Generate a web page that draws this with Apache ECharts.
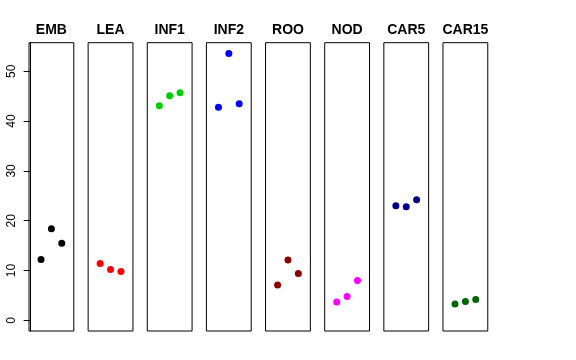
<!DOCTYPE html>
<html>
<head>
<meta charset="utf-8">
<script src="https://cdn.jsdelivr.net/npm/echarts@6/dist/echarts.min.js"></script>
<style>
html,body{margin:0;padding:0;background:#fff;}
#c{width:576px;height:360px;}
</style>
</head>
<body>
<div id="c"></div>
<script>
const panels = ["EMB","LEA","INF1","INF2","ROO","NOD","CAR5","CAR15"];
const EMB   = [12.2, 18.4, 15.5];
const LEA   = [11.4, 10.2, 9.8];
const INF1  = [43.1, 45.1, 45.7];
const INF2  = [42.8, 53.6, 43.5];
const ROO   = [7.1, 12.1, 9.4];
const NOD   = [3.7, 4.8, 8.0];
const CAR5  = [23.0, 22.8, 24.2];
const CAR15 = [3.3, 3.8, 4.2];
const panelValues = [EMB, LEA, INF1, INF2, ROO, NOD, CAR5, CAR15];
const panelColors = ["#000000","#FF0000","#00CD00","#0000FF","#8B0000","#FF00FF","#00008B","#006400"];
const xPositions = [1, 2, 3];
const yTickValues = [0, 10, 20, 30, 40, 50];

const yMin = -2.144, yMax = 55.744;
const xMin = -0.16, xMax = 4.16;
const left0 = 29, step = 59.14, gw = 44.8, gtop = 42.7, gh = 288.3;

const grids = [], xAxes = [], yAxes = [], series = [], graphics = [];
panels.forEach((name, i) => {
  const l = left0 + i * step;
  grids.push({left: l, top: gtop, width: gw, height: gh, show: true,
    borderColor: '#000', borderWidth: 1, backgroundColor: 'transparent'});
  xAxes.push({type: 'value', gridIndex: i, min: xMin, max: xMax, show: false});
  const ya = {type: 'value', gridIndex: i, min: yMin, max: yMax, splitLine: {show: false}};
  if (i === 0) {
    Object.assign(ya, {
      show: true,
      axisLine: {show: true, lineStyle: {color: '#000', width: 1}},
      axisTick: {show: true, inside: false, length: 7, lineStyle: {color: '#000'}, customValues: yTickValues},
      axisLabel: {show: true, rotate: 90, margin: 11, color: '#000', fontSize: 12,
        fontFamily: 'Liberation Sans, Arial, sans-serif', customValues: yTickValues}
    });
  } else {
    ya.show = false;
  }
  yAxes.push(ya);
  series.push({
    type: 'scatter', xAxisIndex: i, yAxisIndex: i,
    symbol: 'circle', symbolSize: 7,
    itemStyle: {color: panelColors[i], opacity: 1},
    data: panelValues[i].map((v, k) => [xPositions[k], v]),
    silent: true
  });
  graphics.push({
    type: 'text', x: l + gw / 2, y: 30,
    style: {text: name, textAlign: 'center', textVerticalAlign: 'middle',
      fontSize: 14, fontWeight: 'bold', fill: '#000',
      fontFamily: 'Liberation Sans, Arial, sans-serif'}
  });
});

const chart = echarts.init(document.getElementById('c'), null, {renderer: 'canvas'});
chart.setOption({
  animation: false,
  backgroundColor: '#fff',
  graphic: graphics,
  grid: grids,
  xAxis: xAxes,
  yAxis: yAxes,
  series: series
});
</script>
</body>
</html>
